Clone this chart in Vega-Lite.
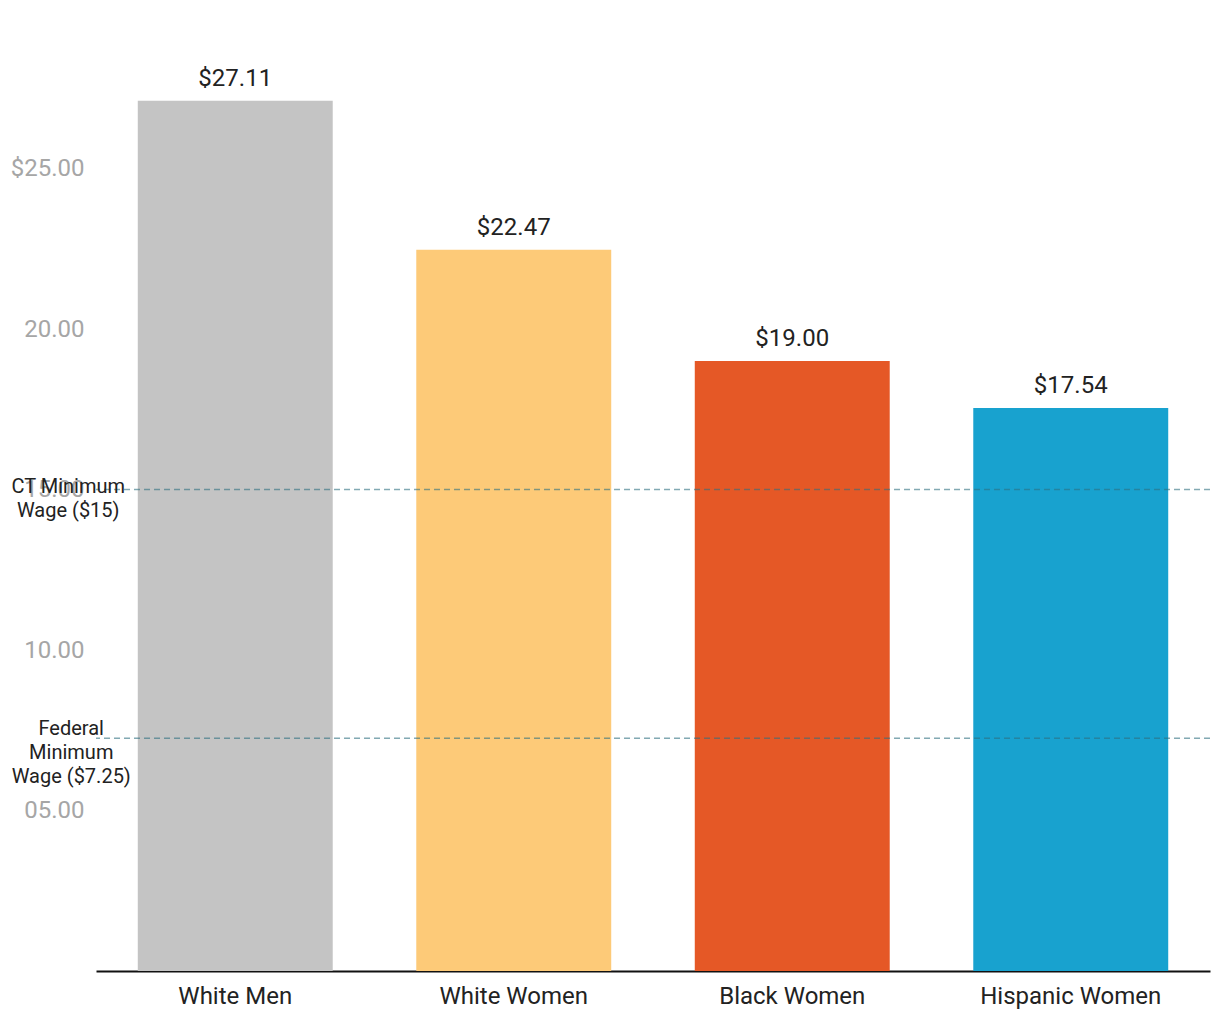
{
  "$schema": "https://vega.github.io/schema/vega-lite/v6.json",
  "autosize": {"type": "none"},
  "padding": {"left": 96, "top": 8, "right": 10, "bottom": 49},
  "width": 1114,
  "height": 963,
  "background": "white",
  "config": {
    "view": {"stroke": null},
    "font": "Roboto"
  },
  "datasets": {
    "wages": [
      {"group": "White Men", "wage": 27.11},
      {"group": "White Women", "wage": 22.47},
      {"group": "Black Women", "wage": 19.00},
      {"group": "Hispanic Women", "wage": 17.54}
    ],
    "minimums": [
      {"name": "CT", "label": "CT Minimum\nWage ($15)", "value": 15},
      {"name": "Federal", "label": "Federal\nMinimum\nWage ($7.25)", "value": 7.25}
    ]
  },
  "encoding": {
    "x": {
      "field": "group",
      "type": "nominal",
      "sort": null,
      "scale": {"paddingInner": 0.3, "paddingOuter": 0.15},
      "axis": {
        "title": null,
        "labelAngle": 0,
        "ticks": false,
        "domainColor": "#111111",
        "domainWidth": 2,
        "labelFontSize": 24,
        "labelColor": "#222222",
        "labelPadding": 13,
        "labelLimit": 400
      }
    }
  },
  "layer": [
    {
      "data": {"name": "wages"},
      "mark": {"type": "bar"},
      "encoding": {
        "y": {
          "field": "wage",
          "type": "quantitative",
          "scale": {"domain": [0, 30], "nice": false},
          "axis": {
            "title": null,
            "values": [5, 10, 15, 20, 25],
            "labelExpr": "datum.value == 25 ? '$25.00' : (datum.value < 10 ? '0' : '') + format(datum.value, '.2f')",
            "grid": false,
            "ticks": false,
            "domain": false,
            "labelFontSize": 24,
            "labelColor": "#a6a6a6",
            "labelPadding": 12
          }
        },
        "color": {
          "field": "group",
          "type": "nominal",
          "sort": null,
          "scale": {
            "domain": ["White Men", "White Women", "Black Women", "Hispanic Women"],
            "range": ["#c4c4c4", "#fdca78", "#e55826", "#18a2cf"]
          },
          "legend": null
        }
      }
    },
    {
      "data": {"name": "wages"},
      "mark": {"type": "text", "baseline": "alphabetic", "dy": -15, "fontSize": 24, "color": "#222222"},
      "encoding": {
        "y": {"field": "wage", "type": "quantitative"},
        "text": {"field": "wage", "type": "quantitative", "format": "$.2f"}
      }
    },
    {
      "data": {"name": "minimums"},
      "mark": {"type": "rule", "stroke": "#2f6f80", "opacity": 0.6, "strokeWidth": 1.5, "strokeDash": [6, 4]},
      "encoding": {
        "x": null,
        "y": {"field": "value", "type": "quantitative"}
      }
    },
    {
      "data": {"name": "minimums"},
      "transform": [{"filter": "datum.name == 'CT'"}],
      "mark": {"type": "text", "lineBreak": "\n", "lineHeight": 24, "baseline": "middle", "align": "center", "dx": -167, "dy": -3, "fontSize": 20, "color": "#222222"},
      "encoding": {
        "x": {"datum": "White Men", "type": "nominal"},
        "y": {"field": "value", "type": "quantitative"},
        "text": {"field": "label"}
      }
    },
    {
      "data": {"name": "minimums"},
      "transform": [{"filter": "datum.name == 'Federal'"}],
      "mark": {"type": "text", "lineBreak": "\n", "lineHeight": 24, "baseline": "middle", "align": "center", "dx": -164, "dy": -9, "fontSize": 20, "color": "#222222"},
      "encoding": {
        "x": {"datum": "White Men", "type": "nominal"},
        "y": {"field": "value", "type": "quantitative"},
        "text": {"field": "label"}
      }
    }
  ]
}
